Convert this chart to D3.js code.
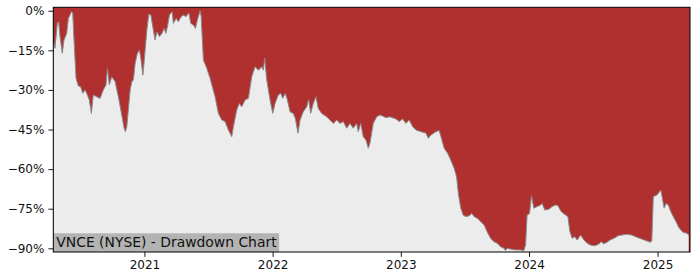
<!DOCTYPE html>
<html lang="en">
<head>
    <meta charset="UTF-8">
    <script src="https://d3js.org/d3.v7.min.js"></script>
    <style>
        body { margin: 0; background: white; }
        text { font-family: "DejaVu Sans", sans-serif; }
    </style>
</head>
<body>
    <svg id="chart" width="700" height="280"></svg>

    <script>
        // Drawdown data (date as decimal year, drawdown in %)
        const ddYears = [
            2020.291, 2020.304, 2020.322, 2020.333, 2020.343, 2020.361, 2020.374, 2020.395, 2020.408, 2020.421,
            2020.431, 2020.442, 2020.452, 2020.468, 2020.486, 2020.504, 2020.520, 2020.538, 2020.556, 2020.571,
            2020.587, 2020.602, 2020.629, 2020.655, 2020.680, 2020.701, 2020.712, 2020.727, 2020.746, 2020.772,
            2020.797, 2020.816, 2020.842, 2020.852, 2020.863, 2020.889, 2020.902, 2020.914, 2020.928, 2020.945,
            2020.961, 2020.972, 2020.988, 2021.000, 2021.019, 2021.034, 2021.050, 2021.065, 2021.083, 2021.097,
            2021.117, 2021.136, 2021.154, 2021.167, 2021.182, 2021.195, 2021.206, 2021.216, 2021.226, 2021.247,
            2021.265, 2021.278, 2021.299, 2021.325, 2021.346, 2021.362, 2021.382, 2021.398, 2021.413, 2021.434,
            2021.442, 2021.460, 2021.486, 2021.512, 2021.551, 2021.577, 2021.603, 2021.629, 2021.655, 2021.681,
            2021.694, 2021.720, 2021.740, 2021.759, 2021.785, 2021.811, 2021.837, 2021.863, 2021.889, 2021.915,
            2021.928, 2021.938, 2021.954, 2021.980, 2022.001, 2022.019, 2022.044, 2022.063, 2022.079, 2022.099,
            2022.115, 2022.136, 2022.161, 2022.177, 2022.198, 2022.214, 2022.239, 2022.266, 2022.281, 2022.297,
            2022.317, 2022.338, 2022.356, 2022.383, 2022.422, 2022.447, 2022.473, 2022.500, 2022.525, 2022.551,
            2022.578, 2022.603, 2022.629, 2022.655, 2022.668, 2022.687, 2022.707, 2022.728, 2022.746, 2022.759,
            2022.785, 2022.811, 2022.837, 2022.863, 2022.884, 2022.915, 2022.962, 2022.988, 2023.014, 2023.040,
            2023.065, 2023.092, 2023.118, 2023.157, 2023.196, 2023.214, 2023.235, 2023.274, 2023.299, 2023.313,
            2023.338, 2023.365, 2023.390, 2023.416, 2023.435, 2023.450, 2023.468, 2023.486, 2023.507, 2023.533,
            2023.554, 2023.572, 2023.599, 2023.624, 2023.650, 2023.673, 2023.700, 2023.726, 2023.751, 2023.778,
            2023.804, 2023.817, 2023.829, 2023.856, 2023.895, 2023.934, 2023.959, 2023.973, 2023.985, 2024.004,
            2024.019, 2024.037, 2024.063, 2024.090, 2024.102, 2024.123, 2024.154, 2024.180, 2024.207, 2024.224,
            2024.250, 2024.284, 2024.302, 2024.318, 2024.336, 2024.355, 2024.375, 2024.401, 2024.427, 2024.453,
            2024.479, 2024.513, 2024.539, 2024.565, 2024.578, 2024.604, 2024.630, 2024.669, 2024.694, 2024.721,
            2024.760, 2024.799, 2024.838, 2024.877, 2024.916, 2024.942, 2024.955, 2024.967, 2024.988, 2025.006,
            2025.025, 2025.035, 2025.051, 2025.066, 2025.084, 2025.103, 2025.123, 2025.144, 2025.162, 2025.181,
            2025.201, 2025.228, 2025.243
        ];
        const ddPct = [
            -11.1, -14.2, -4.8, -4.2, -9.8, -16.1, -11.1, -8.6, -2.9, -1.6,
            -0.4, -0.8, -11.0, -25.6, -28.5, -28.8, -31.3, -30.0, -31.9, -33.8,
            -38.9, -31.9, -32.6, -33.2, -30.0, -28.1, -21.8, -28.1, -25.0, -26.9,
            -32.6, -37.6, -44.5, -45.8, -43.9, -30.0, -26.9, -26.2, -19.9, -16.1,
            -14.9, -18.0, -24.4, -18.0, -7.3, -1.3, -1.6, -6.1, -11.1, -8.0,
            -9.8, -8.6, -6.7, -8.6, -5.4, -1.6, -1.0, -0.4, -4.8, -2.9,
            -4.2, -2.9, -1.6, -2.2, -0.8, -4.8, -5.4, -6.7, -3.5, 0.0,
            -2.0, -18.7, -21.8, -25.6, -32.6, -38.9, -41.4, -42.0, -45.2, -47.7,
            -43.9, -37.6, -35.1, -36.4, -33.8, -33.2, -25.0, -21.2, -22.5, -21.2,
            -22.5, -18.0, -26.2, -33.8, -38.9, -35.1, -31.9, -31.3, -33.2, -31.3,
            -33.8, -38.3, -38.9, -40.8, -46.4, -41.4, -38.3, -36.4, -33.6, -38.9,
            -35.1, -32.6, -37.0, -38.9, -40.2, -41.4, -42.7, -41.4, -42.7, -42.0,
            -44.5, -42.7, -44.5, -42.7, -45.8, -42.7, -47.7, -49.0, -52.1, -50.2,
            -42.7, -40.2, -39.5, -40.0, -40.5, -40.2, -41.0, -42.0, -41.0, -42.7,
            -41.4, -43.9, -45.2, -45.8, -46.4, -48.3, -47.1, -45.8, -45.4, -47.7,
            -52.1, -54.0, -56.6, -59.7, -62.9, -69.8, -74.8, -77.4, -78.0, -77.7,
            -76.8, -78.0, -78.7, -79.9, -81.2, -83.7, -86.2, -87.5, -88.1, -89.4,
            -90.0, -90.8, -90.0, -90.3, -90.6, -90.6, -90.9, -88.8, -77.4, -76.8,
            -70.1, -74.8, -74.2, -73.6, -73.0, -75.5, -75.2, -74.2, -73.6, -73.8,
            -76.1, -77.4, -78.0, -83.7, -86.2, -85.6, -86.9, -85.0, -86.9, -88.1,
            -88.8, -89.0, -88.5, -87.5, -88.3, -87.8, -86.9, -86.0, -85.2, -85.0,
            -84.7, -85.0, -85.8, -86.5, -87.2, -87.7, -87.2, -70.4, -70.0, -69.2,
            -67.9, -70.4, -74.8, -73.0, -73.6, -76.1, -78.0, -79.9, -81.8, -83.1,
            -84.0, -84.3, -85.0
        ];
        const yTickValues = [0, -15, -30, -45, -60, -75, -90];
        const xTickYears = [2021, 2022, 2023, 2024, 2025];
        const chartLabel = "VNCE (NYSE) - Drawdown Chart";

        // decimal year -> Date
        function yearToDate(y) {
            const yr = Math.floor(y);
            const start = Date.UTC(yr, 0, 1), end = Date.UTC(yr + 1, 0, 1);
            return new Date(start + (y - yr) * (end - start));
        }

        const data = ddYears.map((y, i) => ({ date: yearToDate(y), dd: ddPct[i] }));

        const margin = { top: 7.3, right: 10, bottom: 28, left: 53.3 };
        const width = 700, height = 280;
        const plotBottom = height - margin.bottom;

        const svg = d3.select("#chart");

        const x = d3.scaleUtc()
            .domain([yearToDate(2020.291), yearToDate(2025.253)])
            .range([margin.left, width - margin.right]);

        const y = d3.scaleLinear()
            .domain([-91.4, 1.3])
            .range([plotBottom, margin.top]);

        // red background = drawdown
        svg.append("rect")
            .attr("x", margin.left)
            .attr("y", margin.top)
            .attr("width", x.range()[1] - margin.left)
            .attr("height", plotBottom - margin.top)
            .attr("fill", "#b03030");

        // gray area below the drawdown curve
        svg.append("path")
            .datum(data)
            .attr("fill", "#ececec")
            .attr("d", d3.area()
                .x(d => x(d.date))
                .y0(plotBottom)
                .y1(d => y(d.dd)));

        svg.append("path")
            .datum(data)
            .attr("fill", "none")
            .attr("stroke", "#8a8a8a")
            .attr("stroke-width", 1)
            .attr("d", d3.line()
                .x(d => x(d.date))
                .y(d => y(d.dd)));

        // label box
        const label = svg.append("g");
        const labelText = label.append("text")
            .attr("x", margin.left + 3)
            .attr("y", plotBottom - 5.5)
            .style("font-size", "13.9px")
            .attr("fill", "#111")
            .text(chartLabel);
        const bb = labelText.node().getBBox();
        label.insert("rect", "text")
            .attr("x", margin.left)
            .attr("y", plotBottom - 18.7)
            .attr("width", bb.width + 5)
            .attr("height", 18.7)
            .attr("fill", "#b3b3b3");

        // axes
        const yAxis = svg.append("g")
            .attr("transform", `translate(${margin.left},0)`)
            .call(d3.axisLeft(y)
                .tickValues(yTickValues)
                .tickSize(4.9)
                .tickPadding(4)
                .tickFormat(d => (d < 0 ? "\u2212" + Math.abs(d) : d) + "%"));
        yAxis.select(".domain").remove();

        const xAxis = svg.append("g")
            .attr("transform", `translate(0,${plotBottom})`)
            .call(d3.axisBottom(x)
                .tickValues(xTickYears.map(yr => new Date(Date.UTC(yr, 0, 1))))
                .tickSize(4.9)
                .tickPadding(4)
                .tickFormat(d3.utcFormat("%Y")));
        xAxis.select(".domain").remove();

        svg.selectAll(".tick text")
            .style("font-size", "12px")
            .style("font-family", "'DejaVu Sans', sans-serif")
            .attr("fill", "#111");
        svg.selectAll(".tick line").attr("stroke", "#000").attr("stroke-width", 0.9);

        // frame
        svg.append("rect")
            .attr("x", margin.left)
            .attr("y", margin.top)
            .attr("width", x.range()[1] - margin.left)
            .attr("height", plotBottom - margin.top)
            .attr("fill", "none")
            .attr("stroke", "#000")
            .attr("stroke-width", 1);
    </script>
</body>
</html>
